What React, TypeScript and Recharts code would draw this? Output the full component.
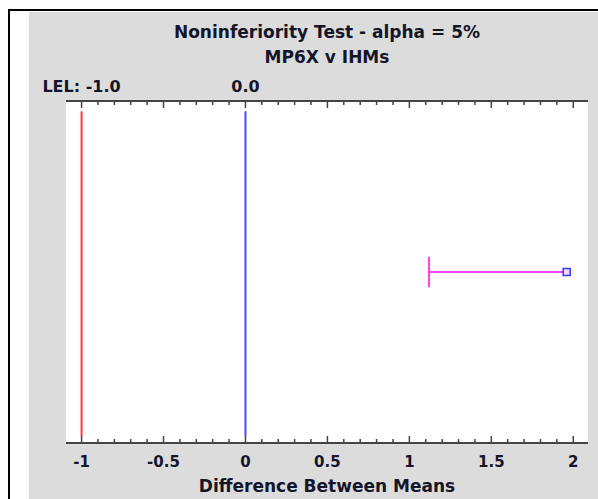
import React from 'react';
import {
  ComposedChart,
  XAxis,
  YAxis,
  Line,
  Scatter,
  ReferenceLine,
  CartesianGrid,
} from 'recharts';

const TITLE = 'Noninferiority Test - alpha = 5%';
const SUBTITLE = 'MP6X v IHMs';
const X_TITLE = 'Difference Between Means';

const X_DOMAIN = [-1.095, 2.09];
const Y_DOMAIN = [0, 100];
const MAJOR_TICKS = [-1, -0.5, 0, 0.5, 1, 1.5, 2];
const ALL_TICKS = Array.from({ length: 31 }, (_, i) => (i - 10) / 10);

const LEL = -1.0;
const ZERO = 0.0;
const REF_SPAN = [2, 97];

// one-sided interval: lower limit and estimate
const CI_LOWER = 1.12;
const CI_EST = 1.96;
const CI_ROW = 50;
const CAP_HALF = 4.4;

const ciBar = [
  { x: CI_LOWER, y: CI_ROW },
  { x: CI_EST, y: CI_ROW },
];
const ciCap = [
  { x: CI_LOWER, y: CI_ROW - CAP_HALF },
  { x: CI_LOWER, y: CI_ROW + CAP_HALF },
];
const estPoint = [{ x: CI_EST, y: CI_ROW }];

const TEXT = '#15152a';
const FONT = '"DejaVu Sans", Verdana, sans-serif';
const FRAME = '#444';

function isMajor(v: number) {
  return MAJOR_TICKS.some((m) => Math.abs(m - v) < 1e-6);
}

function BottomTick({ x, y, payload }: any) {
  const v = payload.value as number;
  const major = isMajor(v);
  return (
    <g>
      <line x1={x} x2={x} y1={y} y2={y - (major ? 7 : 4)} stroke={FRAME} strokeWidth={1.5} />
      {major && (
        <text
          x={x}
          y={y + 24}
          textAnchor="middle"
          fill={TEXT}
          fontSize={15}
          fontWeight="bold"
          fontFamily={FONT}
        >
          {String(v)}
        </text>
      )}
    </g>
  );
}

function TopTick({ x, y, payload }: any) {
  const major = isMajor(payload.value as number);
  return <line x1={x} x2={x} y1={y} y2={y + (major ? 7 : 4)} stroke={FRAME} strokeWidth={1.5} />;
}

function SquareDot({ cx, cy }: any) {
  return (
    <rect x={cx - 3.5} y={cy - 3.5} width={7} height={7} fill="#f4d4ff" stroke="#3a3aee" strokeWidth={1.5} />
  );
}

export default function App() {
  return (
    <div style={{ position: 'absolute', left: 0, top: 0, width: 598, height: 499, background: '#fff', overflow: 'hidden' }}>
      <div
        style={{
          position: 'absolute',
          left: 8,
          top: 9,
          width: 600,
          height: 500,
          borderTop: '2px solid #000',
          borderLeft: '2px solid #000',
        }}
      />
      <div style={{ position: 'absolute', left: 29, top: 12, width: 569, height: 487, background: '#dcdcdc' }}>
        <div
          style={{
            position: 'absolute',
            left: 37,
            width: 522,
            top: 8,
            textAlign: 'center',
            fontFamily: FONT,
            fontWeight: 'bold',
            fontSize: 17,
            lineHeight: '25px',
            color: TEXT,
          }}
        >
          <div>{TITLE}</div>
          <div>{SUBTITLE}</div>
        </div>
        <ComposedChart
          width={569}
          height={487}
          margin={{ top: 0, right: 10, bottom: 0, left: 37 }}
          style={{ position: 'absolute', left: 0, top: 0 }}
        >
          <CartesianGrid horizontal={false} vertical={false} fill="#fff" />
          <XAxis
            dataKey="x"
            type="number"
            domain={X_DOMAIN}
            ticks={ALL_TICKS}
            interval={0}
            allowDataOverflow
            height={56}
            tickSize={0}
            tickMargin={0}
            tick={<BottomTick />}
            axisLine={{ stroke: FRAME, strokeWidth: 2 }}
            label={{
              value: X_TITLE,
              position: 'insideBottom',
              offset: 7,
              fill: TEXT,
              fontSize: 17,
              fontWeight: 'bold',
              fontFamily: FONT,
            }}
          />
          <XAxis
            xAxisId="top"
            orientation="top"
            dataKey="x"
            type="number"
            domain={X_DOMAIN}
            ticks={ALL_TICKS}
            interval={0}
            allowDataOverflow
            height={89}
            tickSize={0}
            tickMargin={0}
            tick={<TopTick />}
            axisLine={{ stroke: FRAME, strokeWidth: 2 }}
          />
          <YAxis type="number" domain={Y_DOMAIN} width={0} tick={false} axisLine={{ stroke: FRAME, strokeWidth: 2 }} />
          <YAxis
            yAxisId="right"
            orientation="right"
            type="number"
            domain={Y_DOMAIN}
            width={0}
            tick={false}
            axisLine={{ stroke: FRAME, strokeWidth: 2 }}
          />

          <ReferenceLine
            segment={[{ x: LEL, y: REF_SPAN[0] }, { x: LEL, y: REF_SPAN[1] }]}
            stroke="#ff3b3b"
            strokeWidth={2}
          />
          <ReferenceLine
            segment={[{ x: ZERO, y: REF_SPAN[0] }, { x: ZERO, y: REF_SPAN[1] }]}
            stroke="#4b4bff"
            strokeWidth={2}
          />
          <ReferenceLine
            x={LEL}
            stroke="none"
            label={{ value: 'LEL: -1.0', position: 'top', offset: 9, fill: TEXT, fontSize: 16, fontWeight: 'bold', fontFamily: FONT }}
          />
          <ReferenceLine
            x={ZERO}
            stroke="none"
            label={{ value: '0.0', position: 'top', offset: 9, fill: TEXT, fontSize: 16, fontWeight: 'bold', fontFamily: FONT }}
          />

          <Line data={ciBar} dataKey="y" stroke="#ff40ff" strokeWidth={2} dot={false} isAnimationActive={false} />
          <Line data={ciCap} dataKey="y" stroke="#ff40ff" strokeWidth={2} dot={false} isAnimationActive={false} />
          <Scatter data={estPoint} dataKey="y" shape={<SquareDot />} isAnimationActive={false} />
        </ComposedChart>
      </div>
    </div>
  );
}
